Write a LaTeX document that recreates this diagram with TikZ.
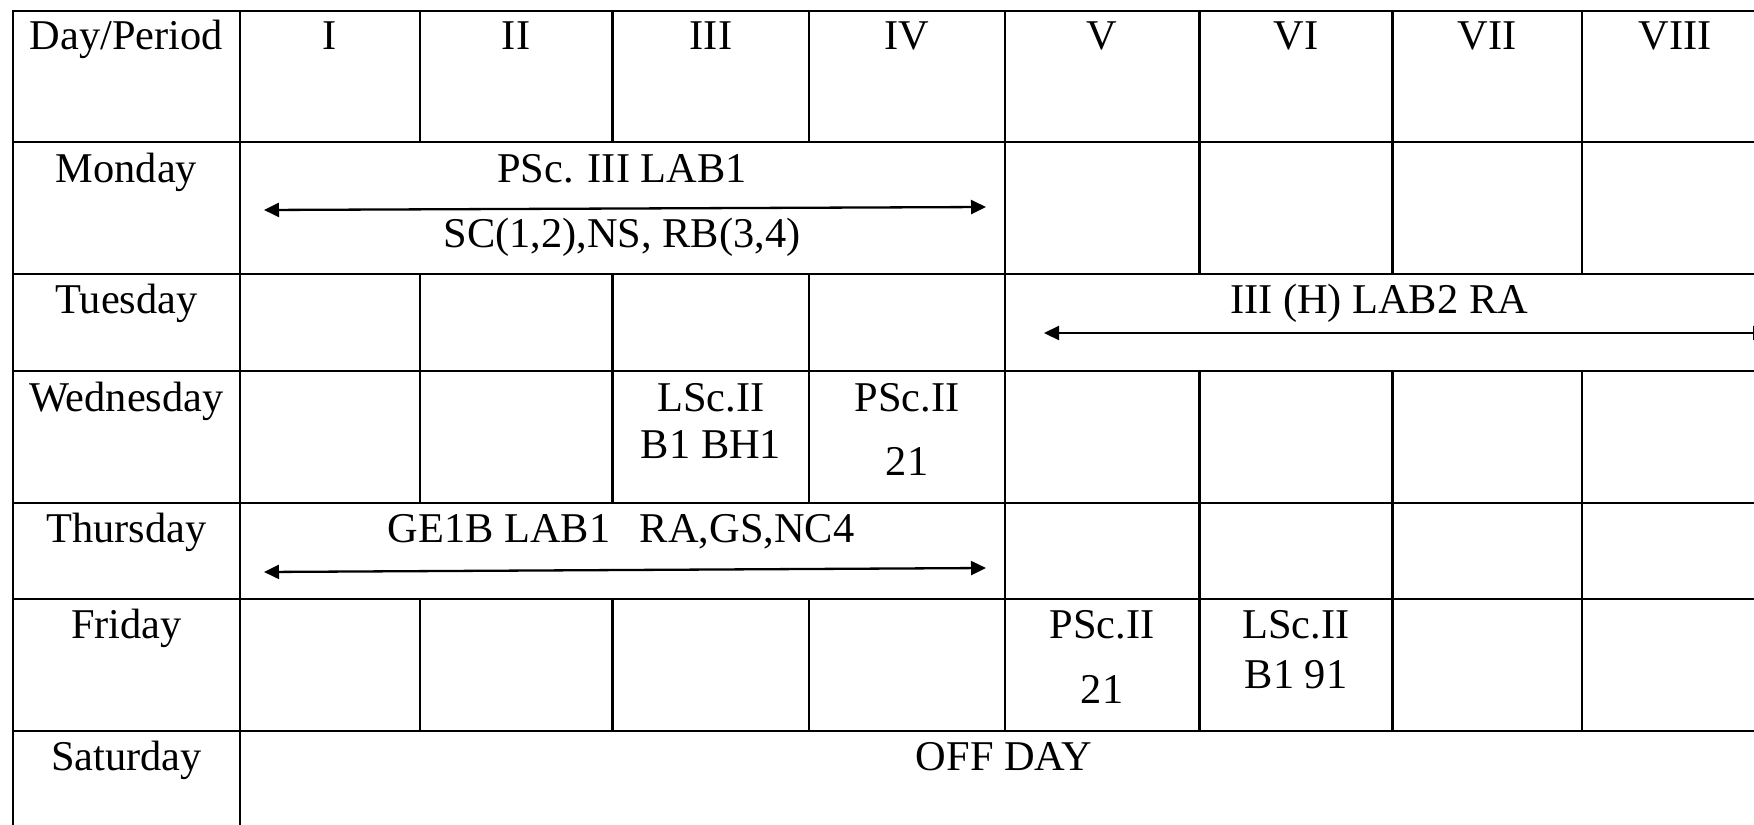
\documentclass[tikz,border=0pt]{standalone}
\usepackage{fontspec}
\setmainfont{Liberation Serif}
\usetikzlibrary{arrows.meta}
\begin{document}
\begin{tikzpicture}[x=0.5pt,y=-0.5pt,
  gridline/.style={line width=1.15pt, black, line cap=rect},
  txt/.style={anchor=base, inner sep=0pt, font=\fontsize{21.2}{25}\selectfont},
  spanarrow/.style={line width=1.15pt, {Triangle[length=7.5pt,width=7pt]}-{Triangle[length=7.5pt,width=7pt]}}]
\useasboundingbox (0,0) rectangle (1754,824);
\fill[white] (0,0) rectangle (1754,824);
\begin{scope}
\clip (0,0) rectangle (1754,824);
% horizontal rules
\foreach \y in {11,142,274,371,503,599,731}
  \draw[gridline] (13,\y) -- (1790,\y);
% vertical rules
\foreach \x in {13,240}
  \draw[gridline] (\x,11) -- (\x,840);
\draw[gridline] (1005,11) -- (1005,731);
\foreach \x in {1199.5,1392.6,1582}{
  \draw[gridline] (\x,11) -- (\x,274);
  \draw[gridline] (\x,371) -- (\x,731);
}
\foreach \x in {420,612.5,809}{
  \draw[gridline] (\x,11) -- (\x,142);
  \draw[gridline] (\x,274) -- (\x,503);
  \draw[gridline] (\x,599) -- (\x,731);
}
% header
\node[txt] (hdp) at (126.5,50) {Day/Period};
\node[txt] (h1) at (330,50) {I};
\node[txt] (h2) at (516,50) {II};
\node[txt] (h3) at (711,50) {III};
\node[txt] (h4) at (907,50) {IV};
\node[txt] (h5) at (1102,50) {V};
\node[txt] (h6) at (1296,50) {VI};
\node[txt] (h7) at (1487,50) {VII};
\node[txt] (h8) at (1675,50) {VIII};
% Monday
\node[txt] (mon) at (126.5,182) {Monday};
\node[txt] (mona) at (622,182) {PSc. III LAB1};
\node[txt] (monb) at (622,247) {SC(1,2),NS, RB(3,4)};
\coordinate (monL) at (264,210);
\coordinate (monR) at (986,207);
\draw[spanarrow] (monL) -- (monR);
% Tuesday
\node[txt] (tue) at (126.5,313) {Tuesday};
\node[txt] (tuea) at (1379,313) {III (H) LAB2 RA};
\coordinate (tueL) at (1044,333);
\coordinate (tueR) at (1768,333);
\draw[spanarrow] (tueL) -- (tueR);
% Wednesday
\node[txt] (wed) at (126.5,411) {Wednesday};
\node[txt] (wed3a) at (711,411) {LSc.II};
\node[txt] (wed3b) at (711,458) {B1 BH1};
\node[txt] (wed4a) at (907,411) {PSc.II};
\node[txt] (wed4b) at (907,475) {21};
% Thursday
\node[txt] (thu) at (126.5,542) {Thursday};
\node[txt] (thua) at (621,542) {GE1B LAB1\hspace{0.7em}RA,GS,NC4};
\coordinate (thuL) at (264,572);
\coordinate (thuR) at (986,568);
\draw[spanarrow] (thuL) -- (thuR);
% Friday
\node[txt] (fri) at (126.5,638) {Friday};
\node[txt] (fri5a) at (1102,638) {PSc.II};
\node[txt] (fri5b) at (1102,703) {21};
\node[txt] (fri6a) at (1296,638) {LSc.II};
\node[txt] (fri6b) at (1296,688) {B1 91};
% Saturday
\node[txt] (sat) at (126.5,770) {Saturday};
\node[txt] (sata) at (1004,770) {OFF DAY};
\end{scope}
\end{tikzpicture}
\end{document}
